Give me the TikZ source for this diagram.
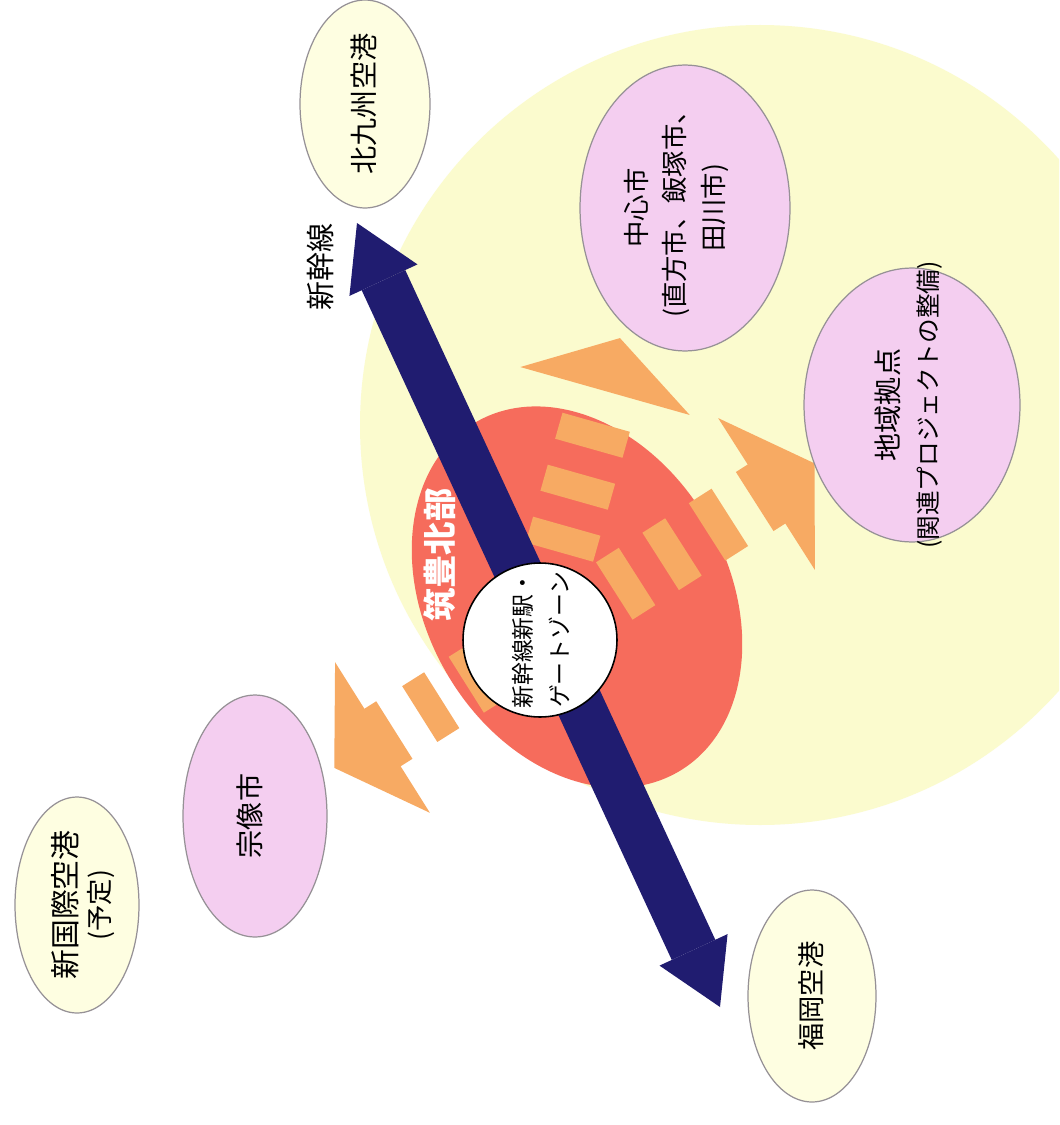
\documentclass[tikz,border=0pt]{standalone}
\usepackage{fontspec}
\newfontfamily\jp{Noto Sans CJK JP}
\usetikzlibrary{shapes.geometric,arrows.meta}
\definecolor{bgyellow}{RGB}{251,251,206}
\definecolor{redell}{RGB}{246,108,92}
\definecolor{orangeA}{RGB}{247,170,99}
\definecolor{navyA}{RGB}{32,28,112}
\definecolor{pinkA}{RGB}{244,206,240}
\definecolor{creamA}{RGB}{254,254,225}
\definecolor{edgeA}{RGB}{150,145,150}
\newcommand\ztext[2][0pt]{\smash{\makebox[0pt]{\raisebox{\dimexpr#1-0.34em\relax}{\begin{tabular}{@{}c@{}}#2\end{tabular}}}}}
\tikzset{
  ell/.style={ellipse, draw=edgeA, line width=0.7pt, inner sep=0pt, rotate=90},
  pinkell/.style={ell, fill=pinkA},
  creamell/.style={ell, fill=creamA},
  obar/.style={fill=orangeA},
  vlabel/.style={rotate=90, inner sep=0pt},
}
\begin{document}
\begin{tikzpicture}[x=0.02cm,y=-0.02cm]
\useasboundingbox (0,0) rectangle (1059,1125);
\fill[white] (0,0) rectangle (1059,1125);
\clip (0,0) rectangle (1059,1125);
% large pale area
\fill[bgyellow] (760,425) circle [radius=400];
% red region
\fill[redell, rotate around={-60:(577,597)}] (577,597) ellipse [x radius=202, y radius=151];
% orange broken arrows
\coordinate (o1) at (605,391);
\coordinate (o2) at (766.5,494);
\coordinate (o3) at (382.5,737.5);
\begin{scope}[shift={(o1)}, rotate=74.2]
  \fill[obar] (0,88) -- (55,0) -- (0,-88) -- cycle;
  \foreach \c in {46,100,154,208} \fill[obar] (-\c-13.5,-35) rectangle (-\c+13.5,35);
\end{scope}
\begin{scope}[shift={(o2)}, rotate=32.5]
  \fill[obar] (0,90) -- (57,0) -- (0,-90) -- cycle;
  \fill[obar] (-14,-35) rectangle (1,35);
  \foreach \c in {57,112,167,222} \fill[obar] (-\c-13.5,-34) rectangle (-\c+13.5,34);
\end{scope}
\begin{scope}[shift={(o3)}, rotate=212.2]
  \fill[obar] (0,89) -- (57,0) -- (0,-89) -- cycle;
  \fill[obar] (-14,-34) rectangle (1,34);
  \foreach \c in {57,112,167} \fill[obar] (-\c-13,-33) rectangle (-\c+13,33);
\end{scope}
% ellipses
\node[creamell, minimum width=4.16cm, minimum height=2.6cm, font=\jp\fontsize{16pt}{20pt}\selectfont] (kitaq) at (365,104) {\ztext{北九州空港}};
\node[pinkell, minimum width=5.72cm, minimum height=4.2cm, font=\jp\fontsize{15pt}{22pt}\selectfont] (chushin) at (685,208) {\ztext[6pt]{中心市\\(直方市、飯塚市、\\田川市)}};
\node[pinkell, minimum width=5.48cm, minimum height=4.32cm, font=\jp\fontsize{16pt}{22pt}\selectfont] (chiiki) at (912,405) {\ztext[2pt]{地域拠点\\{\fontsize{14pt}{22pt}\selectfont(関連プロジェクトの整備)}}};
\node[pinkell, minimum width=4.84cm, minimum height=2.88cm, font=\jp\fontsize{16pt}{20pt}\selectfont] (munakata) at (255,816) {\ztext[2pt]{宗像市}};
\node[creamell, minimum width=4.32cm, minimum height=2.48cm, font=\jp\fontsize{17pt}{19pt}\selectfont] (newair) at (77,905) {\ztext[-3.5pt]{新国際空港\\{\fontsize{15pt}{19pt}\selectfont(予定)}}};
\node[creamell, minimum width=4.24cm, minimum height=2.56cm, font=\jp\fontsize{15.5pt}{20pt}\selectfont] (fukuoka) at (812,996) {\ztext{福岡空港}};
% shinkansen double arrow
\coordinate (sA) at (357,223);
\coordinate (sB) at (720,1007);
\draw[navyA, line width=0.96cm, {Triangle[length=1.26cm,width=1.5cm,line width=0pt]}-{Triangle[length=1.26cm,width=1.5cm,line width=0pt]}] (sA) -- (sB);
% station
\node[circle, draw=black, line width=0.9pt, fill=white, minimum size=3.08cm, inner sep=0pt, rotate=90, font=\jp\fontsize{13pt}{21pt}\selectfont] (station) at (540,640) {\ztext{新幹線新駅・\\ゲートゾーン}};
% labels
\node[vlabel, font=\jp\fontsize{16.5pt}{20pt}\selectfont] (shlabel) at (321,267) {新幹線};
\node[vlabel, text=white, font=\jp\bfseries\fontsize{19pt}{22pt}\selectfont] (chikuho) at (440,555) {筑豊北部};
\end{tikzpicture}
\end{document}
